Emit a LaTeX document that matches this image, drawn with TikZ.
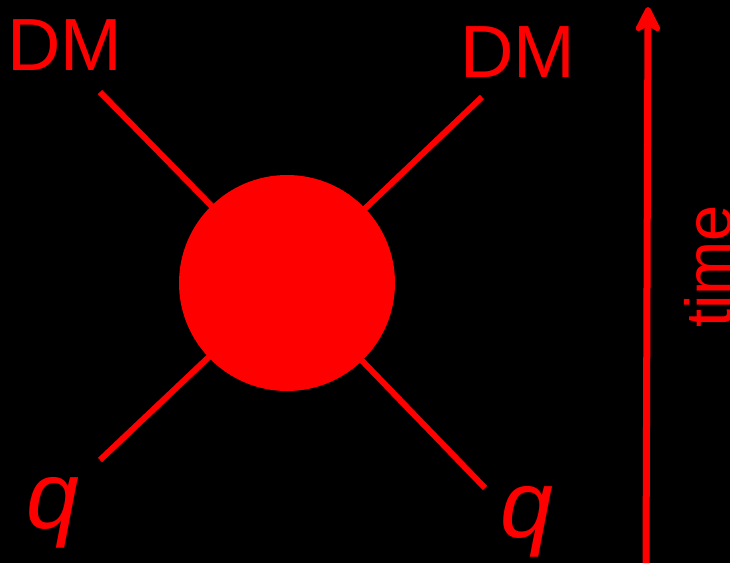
\documentclass[tikz,border=0pt]{standalone}
\usepackage{fontspec}
\setmainfont{Liberation Sans}
\usetikzlibrary{arrows.meta}
\begin{document}
\begin{tikzpicture}[x=1pt,y=-1pt,
  leg/.style={draw=red,line width=6pt},
  lbl/.style={text=red,inner sep=0pt,anchor=base west,font=\fontsize{74}{74}\selectfont},
  qlbl/.style={text=red,inner sep=0pt,anchor=base west,font=\fontsize{95}{95}\selectfont\itshape}]
\fill[black] (0,0) rectangle (730,563);
\useasboundingbox (0,0) rectangle (730,563);
\coordinate (c0) at (287,283);
\coordinate (tl) at (100,92);
\coordinate (tr) at (482,97);
\coordinate (bl) at (100,460);
\coordinate (br) at (485,488);
\draw[leg] (c0) -- (tl);
\draw[leg] (c0) -- (tr);
\draw[leg] (c0) -- (bl);
\draw[leg] (c0) -- (br);
\node[circle,fill=red,minimum size=216pt,inner sep=0pt] (blob) at (c0) {};
\node[lbl] (dm1) at (7,70) {DM};
\node[lbl] (dm2) at (460,77) {DM};
\node[qlbl] (q1) at (26,528) {q};
\node[qlbl] (q2) at (500,537) {q};
\coordinate (a0) at (646,563);
\coordinate (a1) at (648,7);
\draw[red,line width=7pt,-{Stealth[length=32pt,width=32pt,inset=10pt,round]}] (a0) -- (a1);
\node[text=red,inner sep=0pt,anchor=base west,rotate=90,font=\fontsize{65}{65}\selectfont] (t) at (731,328) {time};
\end{tikzpicture}
\end{document}
